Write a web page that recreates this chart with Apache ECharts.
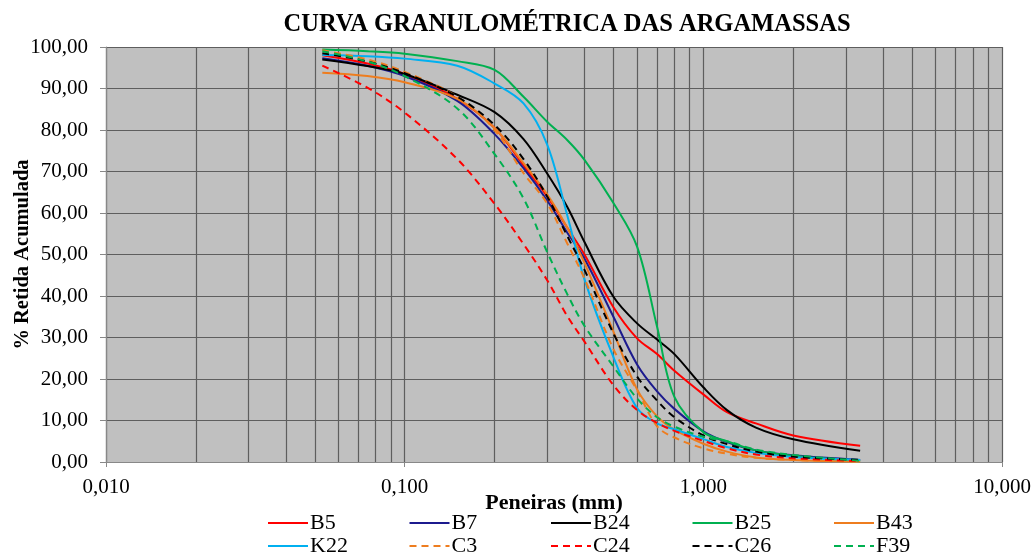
<!DOCTYPE html>
<html>
<head>
<meta charset="utf-8">
<script src="https://cdn.jsdelivr.net/npm/echarts@6/dist/echarts.min.js"></script>
<style>
html,body{margin:0;padding:0;background:#fff;}
#chart{width:1032px;height:554px;}
</style>
</head>
<body>
<div id="chart"></div>
<script>
// Sieve openings (mm)
var sieves = [0.053, 0.075, 0.1, 0.15, 0.2, 0.25, 0.3, 0.35, 0.4, 0.5, 0.6, 0.7, 0.8, 1.0, 1.2, 1.5, 2.0, 3.35];
// % retained (accumulated) per mortar
var B5  = [98, 96, 93.5, 87.5, 80.5, 71.5, 64, 56.5, 50, 37.3, 29.8, 26, 22, 16.3, 12.0, 9.3, 6.4, 3.9];
var B7  = [97.3, 95.5, 93, 87, 79, 70.8, 63, 55.3, 49, 35, 23.5, 17, 12.8, 7.4, 4.8, 2.8, 1.6, 0.5];
var B24 = [97, 95.4, 93.5, 88.5, 84.3, 77.8, 69.5, 61.5, 53, 39.8, 33.4, 29.5, 26, 18, 12.5, 8.3, 5.5, 2.7];
var B25 = [99.4, 99, 98.4, 96.6, 94.5, 88, 82, 77.6, 72.8, 62.4, 51.9, 32.6, 15.7, 7.2, 5, 2.8, 1.5, 0.2];
var B43 = [93.8, 93, 91.5, 87.5, 80.5, 72, 64.5, 56.5, 48, 31.4, 17.5, 11, 7.8, 4.4, 2.5, 1.1, 0.5, 0.1];
var K22 = [98.1, 97.8, 97.2, 95.5, 91.2, 86.4, 76.5, 59.5, 44, 25.3, 13, 9.3, 7.9, 5.5, 3.6, 2.2, 1.2, 0.5];
var C3  = [99.2, 97, 94, 88, 80, 69.6, 62.3, 52.7, 44.2, 27.2, 17.3, 8.6, 5.9, 3.3, 2, 1, 0.5, 0.1];
var C24 = [95.5, 90.2, 84.2, 73, 62.2, 52.5, 43.8, 35.2, 29, 18.5, 12.5, 9.4, 7.5, 5.1, 3.3, 1.8, 0.9, 0.2];
var C26 = [98.5, 96.5, 93.7, 88, 81.2, 73, 64, 54.5, 46.3, 31, 20.6, 14.8, 10.8, 6.4, 4.3, 2.5, 1.3, 0.5];
var F39 = [99, 96.5, 93, 85.2, 74.2, 63.5, 50.6, 40.5, 32.8, 23, 15.3, 10.8, 8.5, 6.1, 5, 3, 1.7, 0.3];

var seriesNames = ['B5', 'B7', 'B24', 'B25', 'B43', 'K22', 'C3', 'C24', 'C26', 'F39'];
var seriesValues = [B5, B7, B24, B25, B43, K22, C3, C24, C26, F39];
// minor (log) vertical grid values
var minorGrid = [0.02, 0.03, 0.04, 0.05, 0.06, 0.07, 0.08, 0.09,
                 0.2, 0.3, 0.4, 0.5, 0.6, 0.7, 0.8, 0.9,
                 2, 3, 4, 5, 6, 7, 8, 9];

var styles = {
  B5:  {color: '#ff0000', type: 'solid'},
  B7:  {color: '#1c1a8e', type: 'solid'},
  B24: {color: '#000000', type: 'solid'},
  B25: {color: '#00b050', type: 'solid'},
  B43: {color: '#ee7d1f', type: 'solid'},
  K22: {color: '#00b0f0', type: 'solid'},
  C3:  {color: '#ee7d1f', type: [7, 5]},
  C24: {color: '#ff0000', type: [7, 5]},
  C26: {color: '#000000', type: [7, 5]},
  F39: {color: '#00b050', type: [7, 5]}
};

var FONT = '"Liberation Serif", "Times New Roman", serif';
var GRIDCOLOR = '#5e5e5e';

var series = seriesNames.map(function (name, i) {
  var st = styles[name];
  return {
    name: name,
    type: 'line',
    smooth: 0.35,
    showSymbol: false,
    symbol: 'none',
    z: 3,
    color: st.color,
    lineStyle: {color: st.color, width: 2, type: st.type},
    data: sieves.map(function (s, j) { return [s, seriesValues[i][j]]; })
  };
});

series.push({
  name: '_grid',
  type: 'line',
  data: [],
  z: 1,
  silent: true,
  markLine: {
    z: 1,
    silent: true,
    symbol: ['none', 'none'],
    label: {show: false},
    lineStyle: {color: GRIDCOLOR, width: 1.2, type: 'solid'},
    emphasis: {disabled: true},
    data: minorGrid.map(function (v) { return {xAxis: v}; })
  }
});

var legends = seriesNames.map(function (name, i) {
  var col = i % 5, row = Math.floor(i / 5);
  return {
    data: [name],
    left: 267 + col * 141.5,
    top: 512 + row * 23,
    padding: 0,
    itemWidth: 40,
    itemHeight: 14,
    selectedMode: false,
    itemStyle: {opacity: 0, borderWidth: 0},
    textStyle: {fontFamily: FONT, fontSize: 22, color: '#000', lineHeight: 22, padding: [0, 0, 0, -3]}
  };
});

var chart = echarts.init(document.getElementById('chart'), null, {renderer: 'canvas'});
chart.setOption({
  animation: false,
  backgroundColor: '#ffffff',
  graphic: [{
    type: 'text',
    x: 567, y: 25,
    style: {
      text: 'CURVA GRANULOMÉTRICA DAS ARGAMASSAS',
      font: 'bold 24.5px ' + FONT,
      fill: '#000',
      textAlign: 'center',
      textVerticalAlign: 'middle'
    }
  }],
  legend: legends,
  grid: {
    left: 106, right: 30, top: 47, bottom: 92,
    outerBoundsMode: 'none',
    containLabel: false,
    show: true, backgroundColor: '#c0c0c0', borderWidth: 0
  },
  xAxis: {
    type: 'log',
    logBase: 10,
    min: 0.01,
    max: 10,
    splitNumber: 3,
    name: 'Peneiras (mm)',
    nameLocation: 'middle',
    nameGap: 30,
    nameMoveOverlap: false,
    nameTextStyle: {fontFamily: FONT, fontSize: 22, fontWeight: 'bold', color: '#000'},
    axisLine: {show: true, lineStyle: {color: '#888888', width: 1.2}},
    axisTick: {show: true, length: 5, lineStyle: {color: '#888888'}},
    axisLabel: {
      fontFamily: FONT, fontSize: 21, color: '#000', margin: 15,
      formatter: function (v) { return Number(v).toFixed(3).replace('.', ','); }
    },
    splitLine: {show: true, lineStyle: {color: GRIDCOLOR, width: 1.2}},
    minorTick: {show: false},
    minorSplitLine: {show: false}
  },
  yAxis: {
    type: 'value',
    min: 0,
    max: 100,
    interval: 10,
    name: '% Retida Acumulada',
    nameLocation: 'middle',
    nameRotate: 90,
    nameGap: 73,
    nameMoveOverlap: false,
    nameTextStyle: {fontFamily: FONT, fontSize: 20.5, fontWeight: 'bold', color: '#000'},
    axisLine: {show: true, lineStyle: {color: '#888888', width: 1.2}},
    axisTick: {show: true, length: 6, lineStyle: {color: '#888888'}},
    axisLabel: {
      fontFamily: FONT, fontSize: 21, color: '#000', margin: 18,
      formatter: function (v) { return Number(v).toFixed(2).replace('.', ','); }
    },
    splitLine: {show: true, lineStyle: {color: GRIDCOLOR, width: 1.2}}
  },
  series: series
});
</script>
</body>
</html>
